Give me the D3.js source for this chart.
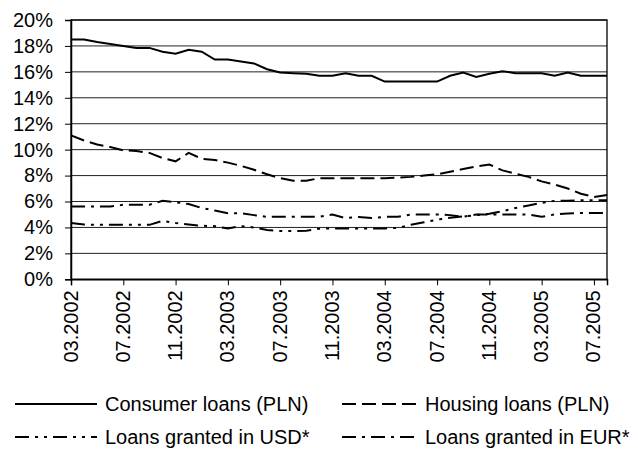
<!DOCTYPE html>
<html>
<head>
<meta charset="utf-8">
<script src="https://cdn.jsdelivr.net/npm/d3@7"></script>
<style>
  body { margin: 0; background: #fff; }
  svg text { font-family: "Liberation Sans", Arial, sans-serif; fill: #000; }
</style>
</head>
<body>
<div id="divchart"></div>
<script>
var width = 638, height = 452;
var margin = { left: 71, right: 31, top: 20, bottom: 172.7 };

var months = ["03.2002", "04.2002", "05.2002", "06.2002", "07.2002", "08.2002", "09.2002", "10.2002", "11.2002", "12.2002",
    "01.2003", "02.2003", "03.2003", "04.2003", "05.2003", "06.2003", "07.2003", "08.2003", "09.2003", "10.2003", "11.2003", "12.2003",
    "01.2004", "02.2004", "03.2004", "04.2004", "05.2004", "06.2004", "07.2004", "08.2004", "09.2004", "10.2004", "11.2004", "12.2004",
    "01.2005", "02.2005", "03.2005", "04.2005", "05.2005", "06.2005", "07.2005", "08.2005"];

var tickLabels = ["03.2002", "07.2002", "11.2002", "03.2003", "07.2003", "11.2003", "03.2004", "07.2004", "11.2004", "03.2005", "07.2005"];
var yTicks = [0, 2, 4, 6, 8, 10, 12, 14, 16, 18, 20];

var consumer = [18.5, 18.5, 18.3, 18.15, 18.0, 17.85, 17.85, 17.55, 17.4, 17.7, 17.55, 16.95, 16.95, 16.8, 16.65, 16.2, 15.95, 15.9, 15.85, 15.7, 15.7,
    15.9, 15.7, 15.7, 15.25, 15.25, 15.25, 15.25, 15.25, 15.7, 15.95, 15.6, 15.85, 16.05, 15.9, 15.9, 15.9, 15.7, 15.95, 15.7, 15.7, 15.7];
var housing = [11.1, 10.7, 10.4, 10.2, 9.95, 9.9, 9.75, 9.35, 9.1, 9.75, 9.3, 9.2, 9.0, 8.75, 8.45, 8.1, 7.8, 7.6, 7.6, 7.8, 7.8,
    7.8, 7.8, 7.8, 7.8, 7.85, 7.9, 8.0, 8.1, 8.3, 8.5, 8.7, 8.85, 8.4, 8.15, 7.9, 7.55, 7.3, 7.0, 6.6, 6.35, 6.5];
var usd = [4.35, 4.23, 4.2, 4.2, 4.2, 4.2, 4.2, 4.5, 4.35, 4.23, 4.13, 4.1, 3.92, 4.1, 4.0, 3.8, 3.72, 3.72, 3.75, 3.9, 3.92,
    3.92, 3.92, 3.92, 3.92, 3.97, 4.2, 4.4, 4.6, 4.75, 4.85, 4.95, 5.05, 5.25, 5.5, 5.7, 5.9, 6.05, 6.05, 6.1, 6.1, 6.1];
var eur = [5.62, 5.62, 5.62, 5.62, 5.75, 5.75, 5.75, 6.05, 5.95, 5.8, 5.5, 5.3, 5.1, 5.1, 4.95, 4.82, 4.82, 4.82, 4.82, 4.82, 5.0,
    4.72, 4.8, 4.72, 4.82, 4.82, 5.0, 5.0, 5.0, 4.95, 4.82, 5.0, 5.0, 5.0, 5.0, 5.0, 4.82, 5.0, 5.08, 5.12, 5.12, 5.12];

var seriesNames = ["Consumer loans (PLN)", "Housing loans (PLN)", "Loans granted in USD*", "Loans granted in EUR*"];
var seriesData = [consumer, housing, usd, eur];
var dashes = [null, "14,6", "14,6,3,6,3,6", "14,6,3,6"];

var plotw = width - margin.left - margin.right,
    ploth = height - margin.top - margin.bottom;

var x = d3.scalePoint().domain(months).range([0, plotw]);
var y = d3.scaleLinear().domain([0, 20]).range([ploth, 0]);

var svg = d3.select("#divchart").append("svg")
    .attr("width", width)
    .attr("height", height);

var g = svg.append("g")
    .attr("transform", "translate(" + margin.left + "," + margin.top + ")");

// gridlines
g.selectAll(".grid")
    .data(yTicks)
    .enter()
    .append("line")
    .attr("class", "grid")
    .attr("x1", 0)
    .attr("x2", plotw)
    .attr("y1", function (d) { return y(d); })
    .attr("y2", function (d) { return y(d); })
    .style("stroke", "#222")
    .style("stroke-width", 1);

g.append("rect")
    .attr("width", plotw)
    .attr("height", ploth)
    .style("fill", "none")
    .style("stroke", "#000")
    .style("stroke-width", 1.3);

// y axis
var yAxis = d3.axisLeft(y)
    .tickValues(yTicks)
    .tickSize(6)
    .tickFormat(function (d) { return d + "%"; });

var yg = g.append("g").call(yAxis);
yg.select(".domain").style("stroke", "#000").style("stroke-width", 1.5);
yg.selectAll("text")
    .attr("x", -18)
    .style("font-size", "20px")
    .style("font-family", "Liberation Sans, Arial, sans-serif");

// x axis
var xAxis = d3.axisBottom(x)
    .tickValues(tickLabels)
    .tickSize(6);

var xg = g.append("g")
    .attr("transform", "translate(0," + ploth + ")")
    .call(xAxis);
xg.select(".domain").style("stroke", "#000").style("stroke-width", 1.5);
xg.selectAll("text")
    .attr("transform", "rotate(-90)")
    .attr("x", -11)
    .attr("y", -1)
    .attr("dy", "0.35em")
    .style("text-anchor", "end")
    .style("font-size", "20px")
    .style("font-family", "Liberation Sans, Arial, sans-serif");

// lines
var line = d3.line()
    .x(function (d, i) { return x(months[i]); })
    .y(function (d) { return y(d); });

g.selectAll(".series")
    .data(seriesData)
    .enter()
    .append("path")
    .attr("class", "series")
    .attr("d", line)
    .style("fill", "none")
    .style("stroke", "#000")
    .style("stroke-width", 2)
    .style("stroke-dasharray", function (d, i) { return dashes[i]; });

// legend
var legpos = [[15, 404], [342, 404], [15, 437], [342, 437]];
var leg = svg.selectAll(".legend")
    .data(seriesNames)
    .enter()
    .append("g")
    .attr("class", "legend")
    .attr("transform", function (d, i) { return "translate(" + legpos[i][0] + "," + legpos[i][1] + ")"; });

leg.append("line")
    .attr("x1", 0)
    .attr("x2", function (d, i) { return i % 2 == 0 ? 82 : 78; })
    .attr("y1", 0)
    .attr("y2", 0)
    .style("stroke", "#000")
    .style("stroke-width", 2)
    .style("stroke-dasharray", function (d, i) { return dashes[i]; });

leg.append("text")
    .attr("x", function (d, i) { return i % 2 == 0 ? 90 : 83; })
    .attr("y", 0)
    .attr("dy", "0.35em")
    .style("font-size", "20px")
    .text(function (d) { return d; });
</script>
</body>
</html>
